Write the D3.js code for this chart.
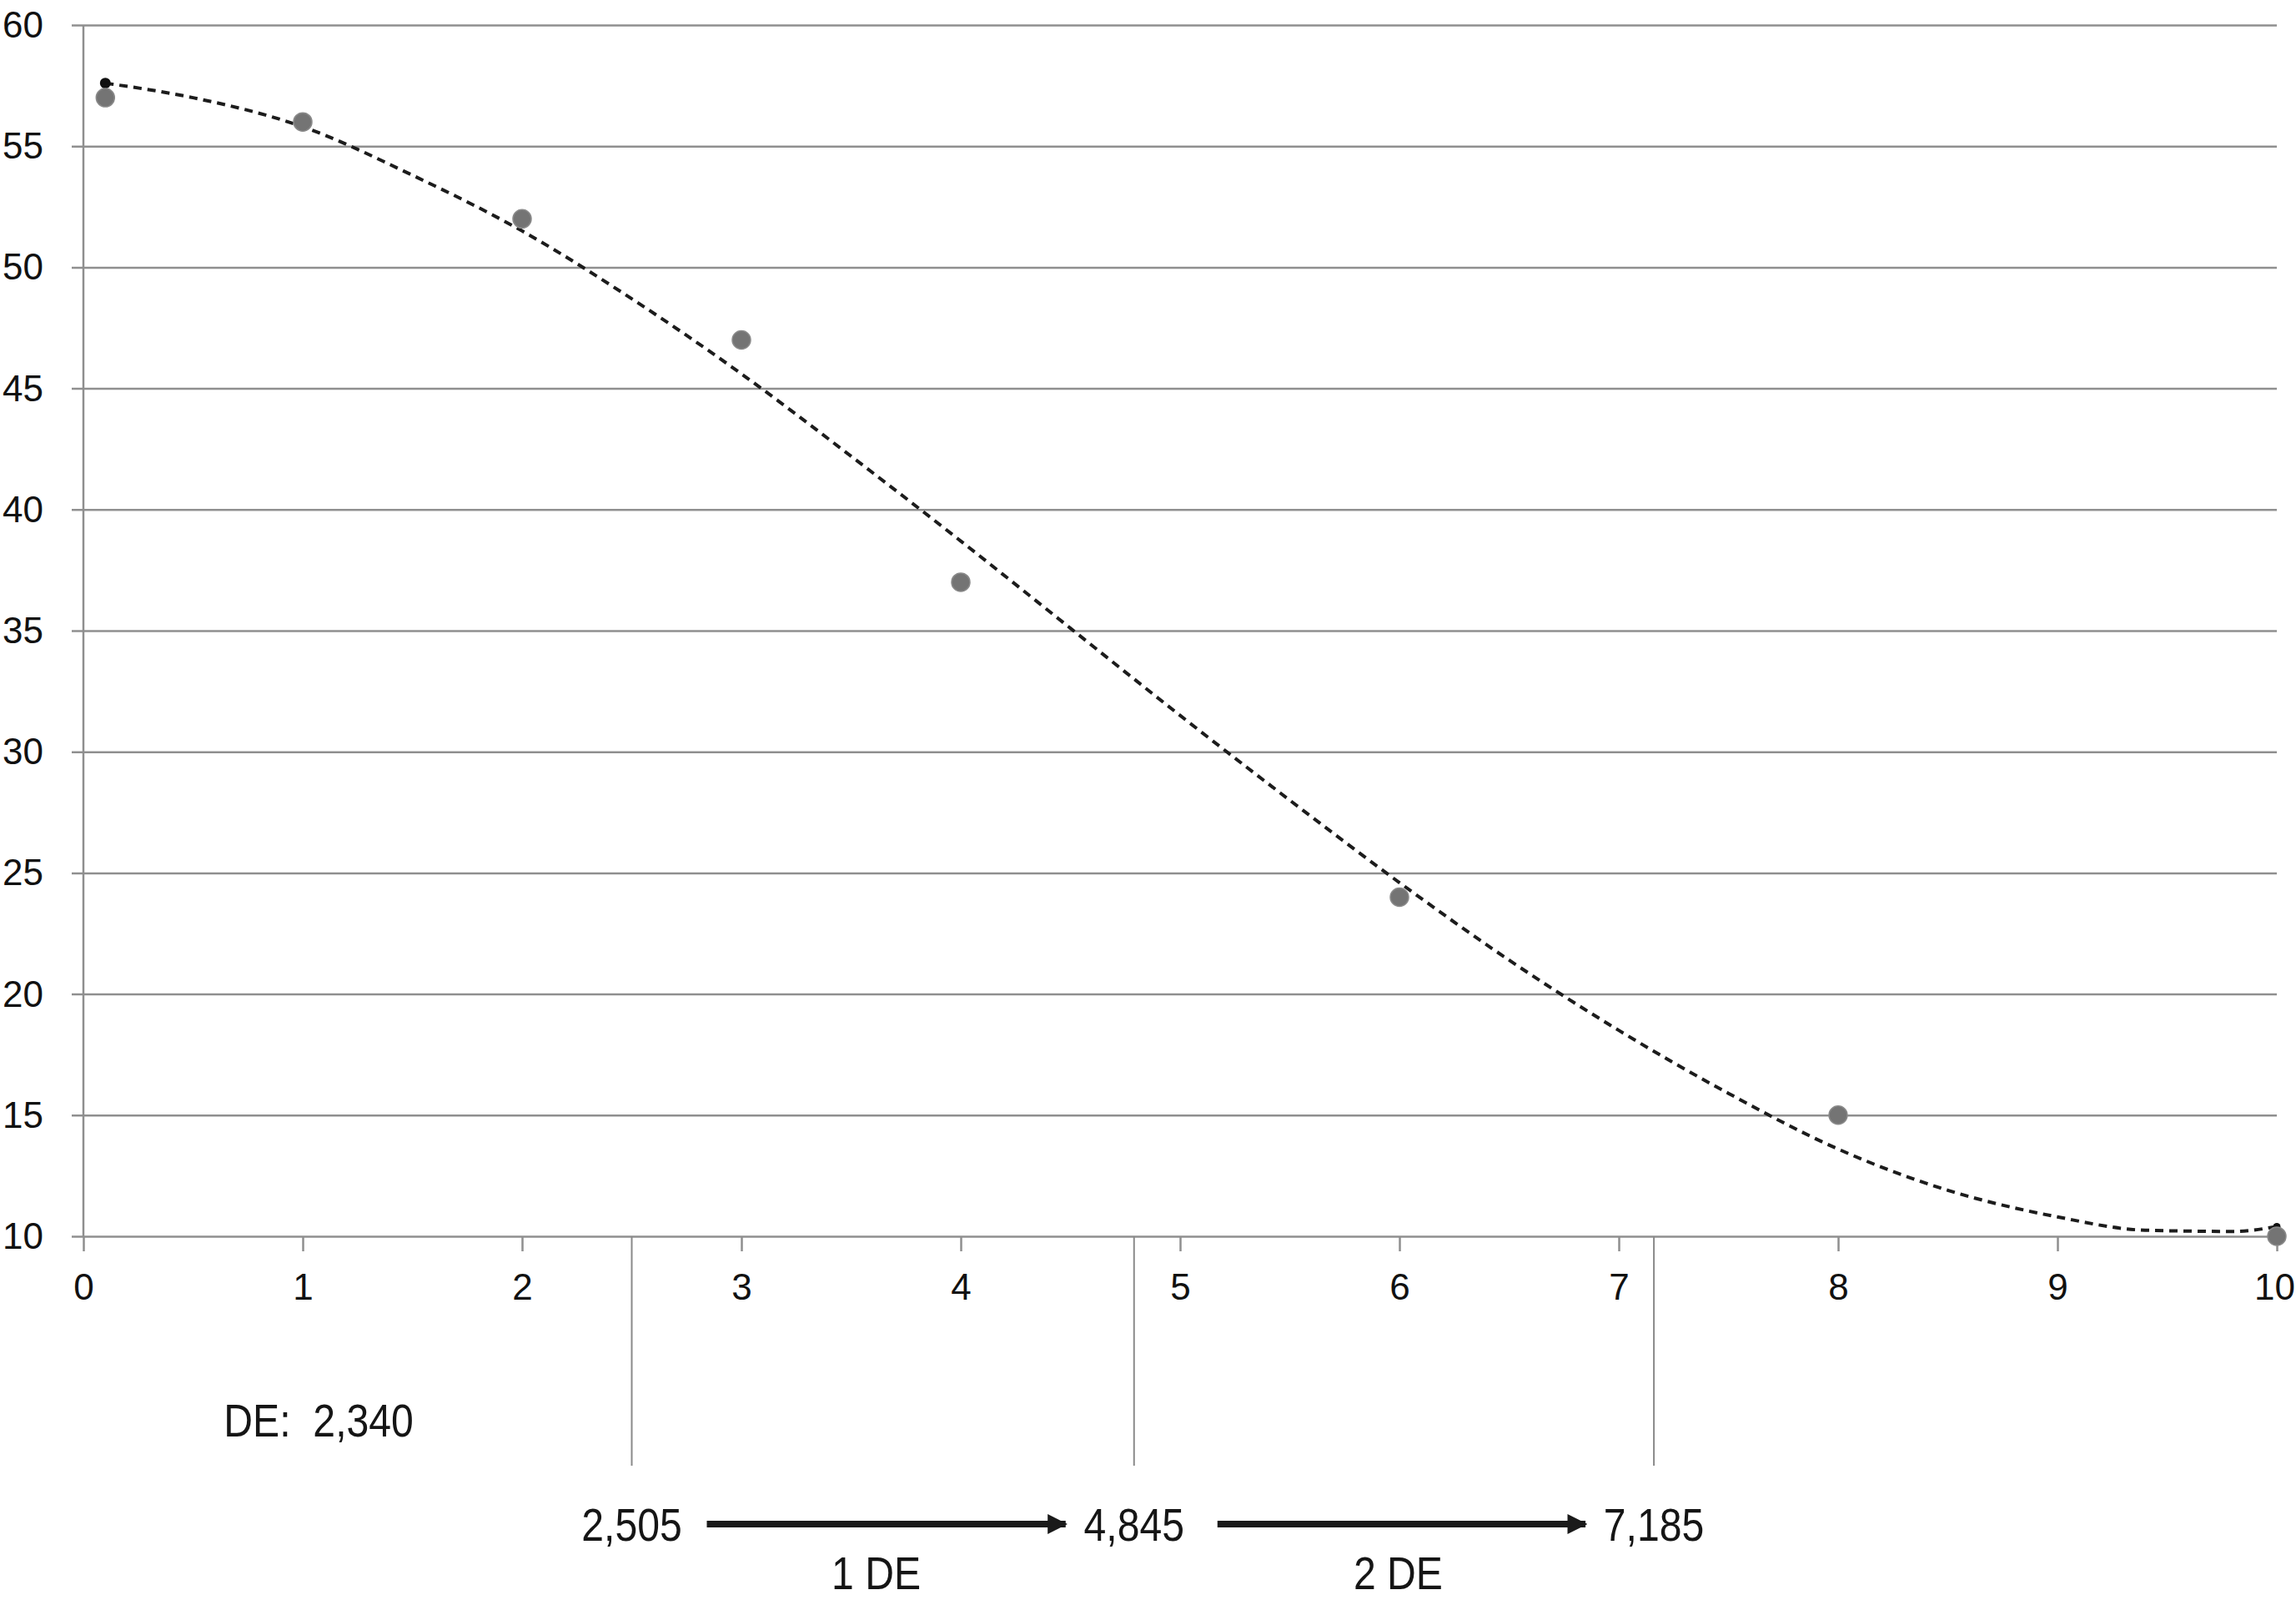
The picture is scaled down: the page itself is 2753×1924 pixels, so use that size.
<!DOCTYPE html>
<html>
<head>
<meta charset="utf-8">
<script src="https://cdn.jsdelivr.net/npm/d3@7"></script>
<style>
  body { margin: 0; background: #fff; }
  svg { display: block; }
  .tick text { font-family: 'Liberation Sans', Arial, sans-serif; fill: #111; }
  .note { font-family: 'Liberation Sans Narrow', 'Liberation Sans', Arial, sans-serif; fill: #151515; }
</style>
</head>
<body>
<svg id="chart"></svg>
<script>
// observed points
const pointX = [0.1, 1, 2, 3, 4, 6, 8, 10]
const pointY = [57, 56, 52, 47, 37, 24, 15, 10]

// dashed trend line
const trendX = [0.1, 0.5, 1, 1.5, 2, 2.5, 3, 3.5, 4, 4.5, 5, 5.5, 6, 6.5, 7, 7.5, 8, 8.5, 9, 9.4, 9.8, 10]
const trendY = [57.6, 57.0, 55.8, 53.8, 51.5, 48.7, 45.6, 42.2, 38.7, 35.1, 31.5, 28.0, 24.6, 21.4, 18.5, 15.9, 13.6, 11.9, 10.8, 10.25, 10.2, 10.4]

const xTicks = [0, 1, 2, 3, 4, 5, 6, 7, 8, 9, 10]
const yTicks = [10, 15, 20, 25, 30, 35, 40, 45, 50, 55, 60]

// DE markers under the axis
const markerPos = [2.50, 4.79, 7.16]
const markerLabels = ['2,505', '4,845', '7,185']
const spanLabels = ['1 DE', '2 DE']
const deText = 'DE:  2,340'

class DeChart {
    constructor(_config) {
        this.config = {
            parentElement: _config.parentElement,
            containerWidth: _config.containerWidth || 2753,
            containerHeight: _config.containerHeight || 1924,
            margin: {top: 30, right: 23, bottom: 442, left: 100},
            narrow: 0.86,
        }
        this.initVis()
    }

    initVis() {
        let vis = this

        vis.width = vis.config.containerWidth - vis.config.margin.left - vis.config.margin.right
        vis.height = vis.config.containerHeight - vis.config.margin.top - vis.config.margin.bottom

        vis.svg = d3.select(vis.config.parentElement)
            .attr('width', vis.config.containerWidth)
            .attr('height', vis.config.containerHeight)

        vis.svg.append('rect')
            .attr('width', vis.config.containerWidth)
            .attr('height', vis.config.containerHeight)
            .attr('fill', '#fff')

        vis.chart = vis.svg.append('g')
            .attr('transform', `translate(${vis.config.margin.left},${vis.config.margin.top})`)

        vis.xScale = d3.scaleLinear().domain([0, 10]).range([0, vis.width])
        vis.yScale = d3.scaleLinear().domain([10, 60]).range([vis.height, 0])

        vis.renderVis()
    }

    renderVis() {
        let vis = this
        const grid = '#8f8f8f'
        const squeeze = (x, y) => `translate(${x},${y}) scale(${vis.config.narrow},1)`

        // y axis with full-width gridlines
        const yAxis = d3.axisLeft(vis.yScale)
            .tickValues(yTicks)
            .tickSizeInner(-(vis.width + 14))
            .tickSizeOuter(0)
            .tickPadding(34)

        vis.chart.append('g')
            .attr('transform', 'translate(-14,0)')
            .call(yAxis)
            .call(g => g.select('.domain').remove())
            .call(g => g.selectAll('.tick line').attr('stroke', grid).attr('stroke-width', 2.5))
            .call(g => g.selectAll('.tick text').attr('font-size', 44).attr('dy', '0.33em'))

        const xAxis = d3.axisBottom(vis.xScale)
            .tickValues(xTicks)
            .tickSize(18)
            .tickPadding(27)

        vis.chart.append('g')
            .attr('transform', `translate(0,${vis.height})`)
            .call(xAxis)
            .call(g => g.select('.domain').remove())
            .call(g => g.selectAll('.tick line').attr('stroke', grid).attr('stroke-width', 2.5))
            .call(g => g.selectAll('.tick text').attr('font-size', 44)
                .attr('dx', d => d == 10 ? -3 : 0))

        vis.chart.append('line')
            .attr('x1', 0).attr('x2', 0)
            .attr('y1', 0).attr('y2', vis.height)
            .attr('stroke', grid)
            .attr('stroke-width', 2.5)

        // trend line
        const trend = trendX.map((x, i) => ({x: x, y: trendY[i]}))
        const line = d3.line()
            .x(d => vis.xScale(d.x))
            .y(d => vis.yScale(d.y))
            .curve(d3.curveMonotoneX)

        vis.chart.append('path')
            .datum(trend)
            .attr('fill', 'none')
            .attr('stroke', '#1c1c1c')
            .attr('stroke-width', 4)
            .attr('stroke-dasharray', '10,7')
            .attr('d', line)

        vis.chart.selectAll('.end-dot')
            .data([trend[0], trend[trend.length - 1]])
            .join('circle')
                .attr('class', 'end-dot')
                .attr('cx', d => vis.xScale(d.x))
                .attr('cy', d => vis.yScale(d.y))
                .attr('r', (d, i) => i == 0 ? 6.5 : 4.5)
                .attr('fill', '#111')

        // observed points
        const points = pointX.map((x, i) => ({x: x, y: pointY[i]}))
        vis.chart.selectAll('.dot')
            .data(points)
            .join('circle')
                .attr('class', 'dot')
                .attr('cx', d => vis.xScale(d.x))
                .attr('cy', d => vis.yScale(d.y))
                .attr('r', 11)
                .attr('fill', '#747474')
                .attr('stroke', '#8a8a8a')
                .attr('stroke-width', 1.5)

        // DE annotation below the axis
        const notes = vis.chart.append('g')
        const lineBottom = vis.height + 275
        const rowY = vis.height + 345
        const spanY = vis.height + 423

        notes.selectAll('.marker')
            .data(markerPos)
            .join('line')
                .attr('class', 'marker')
                .attr('x1', d => vis.xScale(d)).attr('x2', d => vis.xScale(d))
                .attr('y1', vis.height).attr('y2', lineBottom)
                .attr('stroke', '#8a8a8a')
                .attr('stroke-width', 2)

        notes.selectAll('.marker-label')
            .data(markerLabels)
            .join('text')
                .attr('class', 'note marker-label')
                .attr('transform', (d, i) => squeeze(vis.xScale(markerPos[i]), rowY + 20))
                .attr('text-anchor', 'middle')
                .attr('font-size', 56)
                .text(d => d)

        vis.svg.append('defs').append('marker')
            .attr('id', 'head')
            .attr('viewBox', '0 0 10 10')
            .attr('refX', 9)
            .attr('refY', 5)
            .attr('markerUnits', 'userSpaceOnUse')
            .attr('markerWidth', 24)
            .attr('markerHeight', 28)
            .attr('orient', 'auto')
            .append('path')
                .attr('d', 'M0,0L10,5L0,10Z')
                .attr('fill', '#1a1a1a')

        const spans = spanLabels.map((s, i) => ({label: s, from: markerPos[i], to: markerPos[i + 1]}))

        notes.selectAll('.arrow')
            .data(spans)
            .join('line')
                .attr('class', 'arrow')
                .attr('x1', (d, i) => vis.xScale(d.from) + (i == 0 ? 90 : 100))
                .attr('x2', d => vis.xScale(d.to) - 82)
                .attr('y1', rowY).attr('y2', rowY)
                .attr('stroke', '#1a1a1a')
                .attr('stroke-width', 8)
                .attr('marker-end', 'url(#head)')

        notes.selectAll('.span-label')
            .data(spans)
            .join('text')
                .attr('class', 'note span-label')
                .attr('transform', (d, i) => squeeze((vis.xScale(d.from) + vis.xScale(d.to)) / 2 + (i == 0 ? -8 : 5), spanY))
                .attr('text-anchor', 'middle')
                .attr('font-size', 56)
                .text(d => d.label)

        notes.append('text')
            .attr('class', 'note')
            .attr('transform', squeeze(vis.xScale(0.64), vis.height + 240))
            .attr('font-size', 56)
            .attr('xml:space', 'preserve')
            .style('white-space', 'pre')
            .text(deText)
    }
}

new DeChart({parentElement: '#chart'})
</script>
</body>
</html>
